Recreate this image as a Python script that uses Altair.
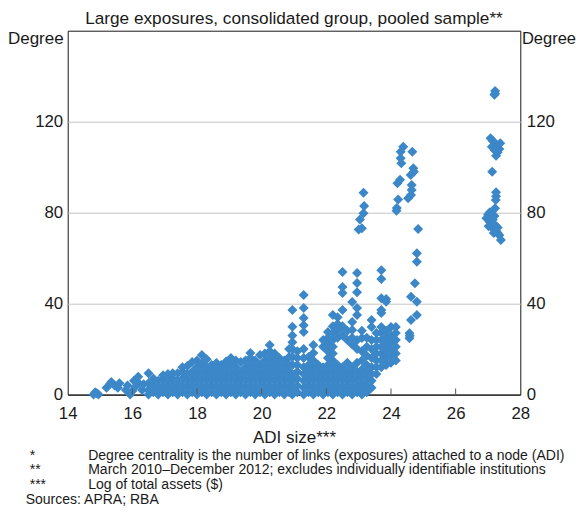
import altair as alt
import pandas as pd

BLUE = "#3b87c8"
FONT = "Liberation Sans"

# ---- data ----
left_x = [14.8, 14.85, 14.9, 14.95, 15.2, 15.3, 15.35, 15.45, 15.55, 15.6, 15.8, 15.85,
          15.93, 16.0, 16.05, 16.1, 16.18, 16.2, 16.3, 16.35]
left_y = [0, 1, 0.5, 0, 3, 4.5, 5.5, 4, 3, 5, 2, 4, 0, 1.5, 6, 3.5, 7.8, 5, 2, 4.5]

blob_x = [16.5, 16.65, 16.8, 16.95, 17.1, 17.25, 17.4, 17.55, 17.7, 17.85, 18.0, 18.15,
          18.3, 18.45, 18.6, 18.75, 18.9, 19.05, 19.2, 19.35, 19.5, 19.65, 19.8, 19.95,
          20.1, 20.25, 20.4, 20.55, 20.7, 20.85, 20.95, 21.1, 21.3, 21.45, 21.6, 21.75,
          21.9, 22.05, 22.2, 22.35, 22.5, 22.65, 22.8, 22.95, 23.1, 23.25, 23.4, 23.55,
          23.7, 23.85, 24.0, 24.15]
blob_y = [
    [0, 2, 5, 9.3], [1, 4, 7], [0, 3, 6], [1, 4, 7, 8.5], [0, 3, 6, 9], [1, 4, 7, 9.4],
    [0, 3, 6, 9.4], [1, 4, 7, 10, 12], [0, 3, 6, 9, 12.5], [1, 4, 7, 10, 14.3],
    [0, 3, 6, 9, 12, 15], [1, 4, 7, 10, 13.5, 17.4], [0, 3, 6, 9, 12, 15.5],
    [1, 4, 7, 10, 13], [0, 3, 6, 9, 12, 13.8], [1, 4, 7, 10, 13], [0, 3, 6, 9, 12, 14.5],
    [1, 4, 7, 10, 13, 16], [0, 3, 6, 9, 12, 15], [1, 4, 7, 10, 14.3], [0, 3, 6, 9, 12, 15],
    [1, 4, 7, 10, 13, 16, 18.2], [0, 3, 6, 9, 12, 15], [1, 4, 7, 10, 13, 17.4],
    [0, 3, 6, 9, 12, 15, 18], [1, 4, 7, 10, 13, 16, 19, 21.8], [0, 3, 6, 9, 12, 15, 18],
    [1, 4, 7, 10, 13, 16], [0, 3, 6, 9, 12, 15], [1, 4, 7, 10, 13, 16.5, 20],
    [0, 3, 6, 9, 13, 16.5, 20, 23, 26, 29.8, 37.2], [1, 4, 7, 10, 13, 16, 19],
    [0, 3, 6, 9, 12, 16, 20, 27.5, 30.5, 33.6, 38, 43.8], [1, 4, 7, 10, 13, 16.5],
    [0, 3, 6, 9, 12, 15, 18.2, 21.8], [1, 4, 7, 10, 13], [0, 3, 6, 9, 12, 21, 24],
    [1, 4, 7, 10, 13, 16, 19, 22, 25, 27.5], [0, 3, 6, 9, 12, 15, 18, 21, 24, 27, 30, 35],
    [1, 4, 7, 10, 13, 25, 28, 31, 34], [0, 3, 6, 9, 12, 26, 30, 37.2, 44.6, 47.3, 53.9],
    [1, 4, 7, 10, 14, 24, 28], [0, 3, 6, 9, 12, 22, 25, 28.4, 31.9, 40.7],
    [1, 4, 7, 10, 14, 20, 24, 35, 38, 45, 49, 53.4], [0, 2, 5, 8, 11, 15, 19, 24.8, 28],
    [1, 4, 7, 10, 13, 17, 21, 25], [3, 6, 9, 12, 16, 20, 24, 29.7, 32.8],
    [9, 12, 15, 18, 21, 24, 27], [12, 15, 18, 21, 24, 27, 29.7, 35.8, 37.2, 42.3, 50.8, 54.7],
    [13, 16, 19, 22, 25, 28, 40.8, 42], [14, 17, 20, 23, 26, 29.7], [15, 18, 21, 24, 27, 29.7],
]

upper_x = [23.15, 23.17, 23.15, 23.04, 23.0, 23.1,
           24.38, 24.3, 24.3, 24.32, 24.66, 24.28, 24.2, 24.22, 24.18, 24.17,
           24.69, 24.71, 24.61, 24.64, 24.64, 24.62, 24.53,
           24.84, 24.8, 24.8, 24.74, 24.62, 24.8, 24.8, 24.62, 24.57, 24.57, 24.58]
upper_y = [88.7, 82.9, 79.7, 77, 72.6, 73.1,
           109, 106.8, 103.9, 101.7, 106.8, 94.4, 92.9, 85.8, 82, 80.8,
           99.5, 98, 96.5, 92.1, 89.9, 87.7, 86.3,
           72.8, 62.1, 58.4, 48.9, 43, 40.8, 35, 32.8, 26.9, 24.7, 25.8]

far_x = [27.22, 27.22, 27.2, 27.08, 27.15, 27.22, 27.3, 27.35, 27.3, 27.25, 27.38, 27.12,
         27.2, 27.13, 27.25, 27.25, 27.24, 27.22, 26.95, 27.0, 27.05, 27.1, 27.05, 27.1,
         27.15, 27.2, 27.15, 27.22, 27.25, 27.3, 27.3, 27.35, 27.4, 27.02, 27.18, 27.12]
far_y = [133.5, 132.3, 131.8, 112.7, 111.5, 110.5, 109.5, 108, 106.5, 105, 110.5, 109,
         107.5, 98, 89, 87.2, 85.5, 81.9, 77.5, 79, 80, 78.5, 76, 75,
         77, 78.5, 73, 74.5, 72, 71, 73.5, 70, 68, 74, 71, 80.5]

x_ticks = [14, 16, 18, 20, 22, 24, 26, 28]
inner_ticks = [16, 18, 20, 22, 24, 26]
y_ticks = [0, 40, 80, 120]

subtitle = "Large exposures, consolidated group, pooled sample**"
x_title = "ADI size***"
y_title = "Degree"
note_marks = ["*", "**", "***"]
note_lines = [
    "Degree centrality is the number of links (exposures) attached to a node (ADI)",
    "March 2010\u2013December 2012; excludes individually identifiable institutions",
    "Log of total assets ($)",
]
sources = "Sources: APRA; RBA"

# ---- build table ----
xs, ys = list(left_x), list(left_y)
for bxv, col in zip(blob_x, blob_y):
    for v in col:
        xs.append(bxv)
        ys.append(v)
xs += upper_x + far_x
ys += upper_y + far_y
pts = pd.DataFrame({"size": xs, "degree": ys})

W, H = 452.6, 363.8
TXT = "#1a1a1a"
xscale = alt.Scale(domain=[14, 28], nice=False, zero=False)
yscale = alt.Scale(domain=[0, 160], nice=False, zero=True)

x_axis = alt.Axis(values=x_ticks, grid=False, ticks=False, tickSize=0, domain=False,
                  labelFont=FONT, labelFontSize=16.8, labelColor=TXT,
                  labelBaseline="alphabetic", labelPadding=23.5, labelFlush=False,
                  title=x_title, titleFont=FONT, titleFontSize=17,
                  titleFontWeight="normal", titleColor=TXT,
                  titleBaseline="alphabetic", titleY=47.5, titleX=W / 2)

left_axis = alt.Axis(orient="left", values=y_ticks, grid=True,
                     gridColor=alt.condition("datum.value == 0", alt.value(TXT), alt.value("#c4c4c4")),
                     ticks=False, tickSize=0, domain=False,
                     labelFont=FONT, labelFontSize=16.8, labelColor=TXT,
                     labelPadding=5, labelBaseline="middle",
                     title=y_title, titleFont=FONT, titleFontSize=17,
                     titleFontWeight="normal", titleColor=TXT, titleAngle=0,
                     titleAlign="right", titleBaseline="alphabetic", titleX=-4.5, titleY=13)

right_axis = alt.Axis(orient="right", values=y_ticks, grid=False,
                      ticks=False, tickSize=0, domain=False,
                      labelFont=FONT, labelFontSize=16.8, labelColor=TXT,
                      labelPadding=6, labelBaseline="middle",
                      title=y_title, titleFont=FONT, titleFontSize=16.5,
                      titleFontWeight="normal", titleColor=TXT, titleAngle=0,
                      titleAlign="right", titleBaseline="alphabetic", titleX=55.2, titleY=13)

points = alt.Chart(pts).mark_point(
    shape="diamond", filled=True, size=100, opacity=1, color=BLUE, strokeWidth=0
).encode(
    x=alt.X("size:Q", scale=xscale, axis=x_axis),
    y=alt.Y("degree:Q", scale=yscale, axis=left_axis),
)

right = alt.Chart(pd.DataFrame({"degree": y_ticks})).mark_tick(opacity=0).encode(
    y=alt.Y("degree:Q", scale=yscale, axis=right_axis),
)

ticks = alt.Chart(pd.DataFrame({"size": inner_ticks})).mark_rule(
    color="#555555", strokeWidth=1
).encode(
    x=alt.X("size:Q", scale=xscale, axis=x_axis),
    y=alt.value(H),
    y2=alt.value(H - 6),
)

sub = alt.Chart(pd.DataFrame({"t": [subtitle]})).mark_text(
    font=FONT, fontSize=17.2, color=TXT, align="center", baseline="alphabetic"
).encode(text="t:N", x=alt.value(W / 2), y=alt.value(-7))

marks = alt.Chart(pd.DataFrame({"t": [note_marks]})).mark_text(
    font=FONT, fontSize=14, color=TXT, align="left", baseline="alphabetic",
    lineHeight=14.7
).encode(text="t", x=alt.value(-38), y=alt.value(428.8))

notes = alt.Chart(pd.DataFrame({"t": [note_lines]})).mark_text(
    font=FONT, fontSize=14, color=TXT, align="left", baseline="alphabetic",
    lineHeight=14.7
).encode(text="t", x=alt.value(20.5), y=alt.value(428.8))

src = alt.Chart(pd.DataFrame({"t": [sources]})).mark_text(
    font=FONT, fontSize=14, color=TXT, align="left", baseline="alphabetic"
).encode(text="t:N", x=alt.value(-42), y=alt.value(472.8))

chart = alt.layer(points, right, ticks, sub, marks, notes, src).resolve_axis(
    y="independent"
).properties(
    width=W, height=H,
    autosize=alt.AutoSizeParams(type="none"),
    padding={"left": 59.7, "top": 22.7, "right": 55.7, "bottom": 112.5},
).configure_view(
    stroke=TXT, strokeWidth=1
)

chart.save("out.html", embed_options={"renderer": "svg", "actions": False})
